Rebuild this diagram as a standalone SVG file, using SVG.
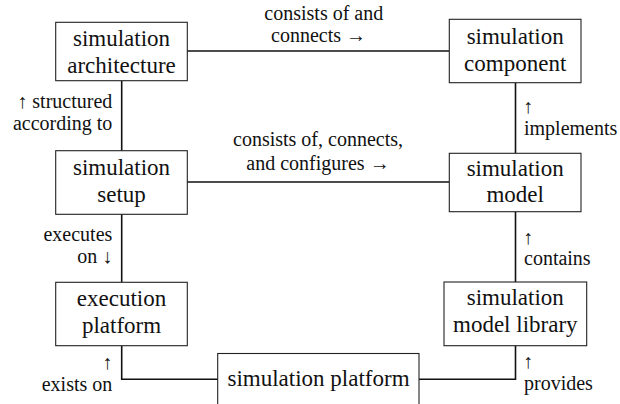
<svg xmlns="http://www.w3.org/2000/svg" width="620" height="404" viewBox="0 0 620 404">
<rect width="620" height="404" fill="#fff"/>
<g id="connectors">
<g fill="none" stroke="#111" stroke-width="1.6">
<line x1="187" y1="51" x2="449" y2="51"/>
<line x1="187" y1="182" x2="449" y2="182"/>
<line x1="121.7" y1="81" x2="121.7" y2="151"/>
<line x1="121.7" y1="214" x2="121.7" y2="282"/>
<polyline points="121.7,346 121.7,379.3 218,379.3"/>
<line x1="515.5" y1="83" x2="515.5" y2="153"/>
<line x1="515.5" y1="212" x2="515.5" y2="282"/>
<polyline points="515.5,346 515.5,379.3 419,379.3"/>
</g>
<g font-family="Liberation Serif" font-size="20" fill="#111">
<text style="font-family:'Liberation Serif',serif;font-size:20px;fill:#111" text-anchor="middle" x="323.8" y="20">consists of and</text>
<text style="font-family:'Liberation Serif',serif;font-size:20px;fill:#111" text-anchor="middle" x="318.5" y="41.7">connects →</text>
<text style="font-family:'Liberation Serif',serif;font-size:20px;fill:#111" text-anchor="middle" x="318" y="145.5">consists of, connects,</text>
<text style="font-family:'Liberation Serif',serif;font-size:20px;fill:#111" text-anchor="middle" x="318" y="169.5">and configures →</text>
<text style="font-family:'Liberation Serif',serif;font-size:20px;fill:#111" text-anchor="end" x="112.3" y="108.3">↑ structured</text>
<text style="font-family:'Liberation Serif',serif;font-size:20px;fill:#111" text-anchor="end" x="112.3" y="129.8">according to</text>
<text style="font-family:'Liberation Serif',serif;font-size:20px;fill:#111" text-anchor="end" x="112.3" y="240.7">executes</text>
<text style="font-family:'Liberation Serif',serif;font-size:20px;fill:#111" text-anchor="end" x="112.3" y="263">on ↓</text>
<text style="font-family:'Liberation Serif',serif;font-size:20px;fill:#111" text-anchor="end" x="112.3" y="369">↑</text>
<text style="font-family:'Liberation Serif',serif;font-size:20px;fill:#111" text-anchor="end" x="112.3" y="391">exists on</text>
<text style="font-family:'Liberation Serif',serif;font-size:20px;fill:#111" x="523" y="113">↑</text>
<text style="font-family:'Liberation Serif',serif;font-size:20px;fill:#111" x="524" y="135">implements</text>
<text style="font-family:'Liberation Serif',serif;font-size:20px;fill:#111" x="523" y="244">↑</text>
<text style="font-family:'Liberation Serif',serif;font-size:20px;fill:#111" x="524" y="265">contains</text>
<text style="font-family:'Liberation Serif',serif;font-size:20px;fill:#111" x="523" y="368">↑</text>
<text style="font-family:'Liberation Serif',serif;font-size:20px;fill:#111" x="524" y="390">provides</text>
</g>
</g>
<g id="architecture" font-family="Liberation Serif" font-size="23" text-anchor="middle">
<rect x="55.7" y="22.3" width="131.6" height="58.4" fill="#fff" stroke="#222" stroke-width="1.1"/>
<text style="font-family:'Liberation Serif',serif;font-size:23px;fill:#111" x="121.5" y="45.5">simulation</text>
<text style="font-family:'Liberation Serif',serif;font-size:23px;fill:#111" x="121.5" y="72.5">architecture</text>
</g>
<g id="component" font-family="Liberation Serif" font-size="23" text-anchor="middle">
<rect x="449.3" y="19.3" width="131.7" height="63.4" fill="#fff" stroke="#222" stroke-width="1.1"/>
<text style="font-family:'Liberation Serif',serif;font-size:23px;fill:#111" x="515.2" y="43.8">simulation</text>
<text style="font-family:'Liberation Serif',serif;font-size:23px;fill:#111" x="515.2" y="70.8">component</text>
</g>
<g id="setup" font-family="Liberation Serif" font-size="23" text-anchor="middle">
<rect x="55.7" y="150.7" width="131.6" height="63.6" fill="#fff" stroke="#222" stroke-width="1.1"/>
<text style="font-family:'Liberation Serif',serif;font-size:23px;fill:#111" x="121.5" y="174.5">simulation</text>
<text style="font-family:'Liberation Serif',serif;font-size:23px;fill:#111" x="121.5" y="201.5">setup</text>
</g>
<g id="model" font-family="Liberation Serif" font-size="23" text-anchor="middle">
<rect x="449.3" y="153.3" width="131.7" height="58.4" fill="#fff" stroke="#222" stroke-width="1.1"/>
<text style="font-family:'Liberation Serif',serif;font-size:23px;fill:#111" x="515.2" y="175.5">simulation</text>
<text style="font-family:'Liberation Serif',serif;font-size:23px;fill:#111" x="515.2" y="202">model</text>
</g>
<g id="execution-platform" font-family="Liberation Serif" font-size="23" text-anchor="middle">
<rect x="55.7" y="282.3" width="131.6" height="63.4" fill="#fff" stroke="#222" stroke-width="1.1"/>
<text style="font-family:'Liberation Serif',serif;font-size:23px;fill:#111" x="121.5" y="305.5">execution</text>
<text style="font-family:'Liberation Serif',serif;font-size:23px;fill:#111" x="121.5" y="332.5">platform</text>
</g>
<g id="model-library" font-family="Liberation Serif" font-size="23" text-anchor="middle">
<rect x="444" y="282" width="142.7" height="63.7" fill="#fff" stroke="#222" stroke-width="1.1"/>
<text style="font-family:'Liberation Serif',serif;font-size:23px;fill:#111" x="515.3" y="304.5">simulation</text>
<text style="font-family:'Liberation Serif',serif;font-size:23px;fill:#111" x="515.3" y="331.5">model library</text>
</g>
<g id="simulation-platform" font-family="Liberation Serif" font-size="23" text-anchor="middle">
<rect x="217.7" y="353.5" width="201.3" height="60" fill="#fff" stroke="#222" stroke-width="1.1"/>
<text style="font-family:'Liberation Serif',serif;font-size:23px;fill:#111" x="318.5" y="385.5">simulation platform</text>
</g>
</svg>
